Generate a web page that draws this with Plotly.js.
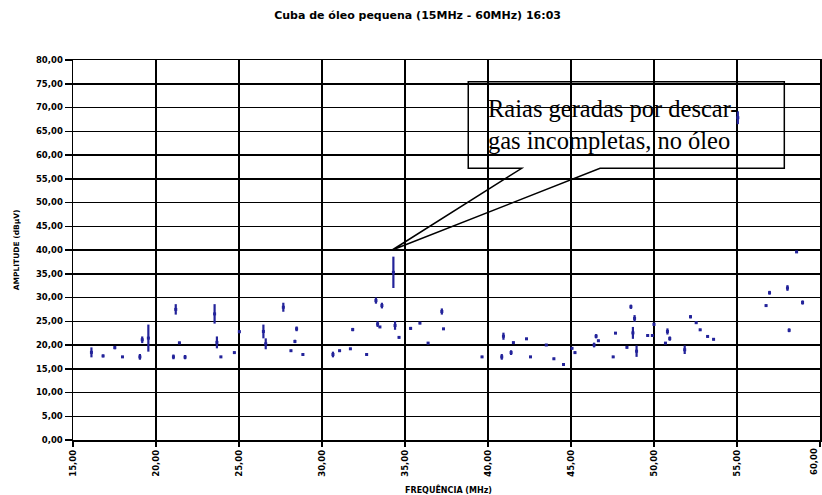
<!DOCTYPE html>
<html>
<head>
<meta charset="utf-8">
<script src="https://cdn.plot.ly/plotly-3.0.1.min.js"></script>
<style>html,body{margin:0;padding:0;background:#fff;}#chart{width:822px;height:495px;}</style>
</head>
<body>
<div id="chart"></div>
<script>
// Frequency (MHz) of each spectral line and its amplitude range (dBµV)
const freqMHz = [16.11,16.81,17.52,17.98,19.03,19.17,19.54,21.05,21.19,21.41,21.75,23.53,23.67,23.91,24.72,25.02,
  26.47,26.61,27.67,28.13,28.37,28.47,28.85,30.66,31.06,31.71,31.85,32.69,33.25,33.35,33.49,33.61,34.30,34.40,34.64,35.34,35.90,36.39,37.22,37.32,
  39.64,40.83,40.93,41.39,41.53,42.32,42.56,43.51,43.97,44.55,45.06,45.24,46.39,46.51,46.65,47.54,47.68,
  48.37,48.61,48.73,48.83,48.95,49.62,49.90,50.00,50.69,50.81,50.95,51.85,52.20,52.54,52.78,53.23,53.59,55.05,56.75,56.96,58.04,58.14,58.59,58.95];
const ampLow = [17.4,17.4,19.1,17.3,16.9,20.4,18.6,17.0,26.4,20.2,17.0,24.5,19.3,17.3,18.2,22.5,
  21.4,19.1,27.0,18.6,20.4,22.9,17.8,17.4,18.6,19.0,22.9,17.8,28.7,23.8,23.6,27.7,32.0,23.2,21.4,23.2,24.4,20.2,26.4,23.2,
  17.3,16.9,21.1,17.9,20.3,21.1,17.3,19.8,16.9,15.7,19.1,18.2,19.5,21.4,20.7,17.3,22.3,
  19.3,27.6,21.3,24.9,17.5,21.8,21.8,24.0,20.2,22.2,20.9,18.1,25.6,24.5,23.0,21.6,21.0,66.5,28.1,30.6,31.4,22.7,39.4,28.5];
const ampHigh = [19.5,18.0,19.8,17.7,18.1,21.8,24.3,18.0,28.6,20.7,17.9,28.6,21.8,17.7,18.6,23.1,
  24.3,21.4,28.9,19.0,21.1,23.9,18.2,18.6,19.0,19.4,23.6,18.2,30.0,25.0,24.0,28.9,38.6,25.0,21.8,23.8,24.8,20.6,27.7,23.6,
  17.7,18.1,22.6,18.9,20.7,21.5,17.7,20.2,17.3,16.1,19.5,18.6,20.5,22.3,21.1,17.7,22.7,
  19.7,28.5,23.8,26.3,19.9,22.2,22.2,24.7,20.6,23.5,21.8,19.9,26.3,24.9,23.4,22.0,21.4,69.2,28.5,31.4,32.6,23.5,39.8,29.4];
const xTicks = [15,20,25,30,35,40,45,50,55,60];
const yTicks = [0,5,10,15,20,25,30,35,40,45,50,55,60,65,70,75,80];
const titleText = 'Cuba de óleo pequena (15MHz - 60MHz) 16:03';
const xTitle = 'FREQUÊNCIA (MHz)';
const yTitle = 'AMPLITUDE (dBµV)';
const calloutText = 'Raias geradas por descar-<br>gas incompletas, no óleo';

// build vertical segments separated by gaps
const segX = [], segY = [];
for (let i = 0; i < freqMHz.length; i++) {
  segX.push(freqMHz[i], freqMHz[i], null);
  segY.push(ampLow[i], ampHigh[i], null);
}
const mid = ampLow.map((v, i) => (v + ampHigh[i]) / 2);

const blue = '#23239a';
const traces = [
  {x: segX, y: segY, type: 'scatter', mode: 'lines', line: {color: blue, width: 2.2}, hoverinfo: 'skip', showlegend: false},
  {x: freqMHz, y: mid, type: 'scatter', mode: 'markers', marker: {color: blue, size: 3, symbol: 'square'}, showlegend: false}
];

const tickFont = {family: 'DejaVu Sans', size: 8.5, color: '#000', weight: 'bold'};
const axisCommon = {
  showgrid: true, gridcolor: '#000', gridwidth: 1.5,
  showline: true, linecolor: '#000', linewidth: 1.5, mirror: true,
  ticks: 'outside', tickcolor: '#000', tickwidth: 1.5,
  zeroline: false, tickformat: '.2f',
  tickfont: tickFont
};

const lastX = xTicks[xTicks.length - 1];

const layout = {
  width: 822, height: 495,
  margin: {l: 73, r: 2, t: 60, b: 55, pad: 0},
  paper_bgcolor: '#fff', plot_bgcolor: '#fff',
  separators: ',.',
  showlegend: false,
  title: {text: '<b>' + titleText + '</b>', x: 0.508, xanchor: 'center', y: 0.97, yanchor: 'middle',
          font: {family: 'DejaVu Sans', size: 11, color: '#000'}},
  xaxis: Object.assign({}, axisCommon, {range: [15, 60], tickvals: xTicks, tickangle: -90, ticklen: 5}),
  yaxis: Object.assign({}, axisCommon, {range: [0, 80], tickvals: yTicks, ticklen: 7}),
  annotations: [
    {text: '<b>' + lastX.toFixed(2).replace('.', ',') + '</b>', xref: 'x', yref: 'paper', x: lastX, xshift: 1, y: -0.017,
     xanchor: 'right', yanchor: 'top', textangle: -90, showarrow: false, font: tickFont},
    {text: '<b>' + xTitle + '</b>', xref: 'paper', yref: 'paper', x: 0.503, y: -0.13, xanchor: 'center', yanchor: 'middle',
     showarrow: false, font: {family: 'DejaVu Sans', size: 8, color: '#000'}},
    {text: '<b>' + yTitle + '</b>', xref: 'paper', yref: 'paper', x: -0.076, y: 0.5, xanchor: 'center', yanchor: 'middle',
     textangle: -90, showarrow: false, font: {family: 'DejaVu Sans', size: 7.5, color: '#000'}},
    {text: calloutText, xref: 'x', yref: 'y', x: 39.94, y: 72.8, xanchor: 'left', yanchor: 'top', align: 'left',
     showarrow: false, borderpad: 0, font: {family: 'Liberation Serif', size: 24.5, color: '#000'}}
  ],
  shapes: [
    {type: 'path', xref: 'x', yref: 'y',
     path: 'M 42.03,57.2 L 38.81,57.2 L 38.81,75.4 L 57.85,75.4 L 57.85,57.2 L 46.75,57.2 L 34.23,40 Z',
     line: {color: '#000', width: 1.5}, fillcolor: 'rgba(0,0,0,0)'}
  ]
};

Plotly.newPlot('chart', traces, layout, {displayModeBar: false, staticPlot: true});
</script>
</body>
</html>
